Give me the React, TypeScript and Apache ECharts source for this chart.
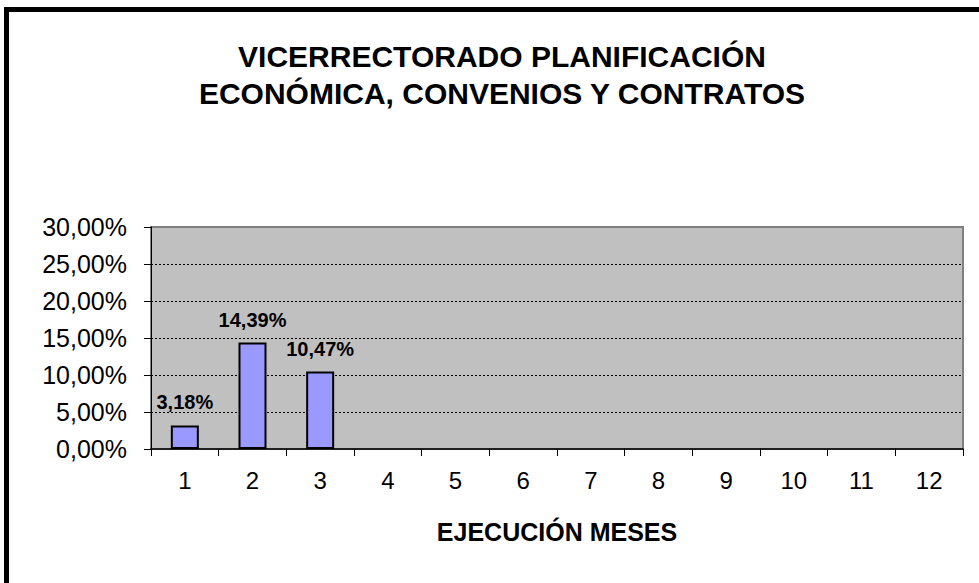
import React, { useEffect, useRef } from "react";
import * as echarts from "echarts";

const titleLines = ["VICERRECTORADO PLANIFICACIÓN", "ECONÓMICA, CONVENIOS Y CONTRATOS"];
const months = ["1", "2", "3", "4", "5", "6", "7", "8", "9", "10", "11", "12"];
const execution: (number | null)[] = [3.18, 14.39, 10.47, null, null, null, null, null, null, null, null, null];
const xAxisName = "EJECUCIÓN MESES";
const yMin = 0;
const yMax = 30;
const yStep = 5;

const fmt = (v: number) => v.toFixed(2).replace(".", ",") + "%";

export default function App() {
  const ref = useRef<HTMLDivElement>(null);
  useEffect(() => {
    if (!ref.current) return;
    const chart = echarts.init(ref.current, undefined, { renderer: "svg" });
    const font = "Arial, 'Liberation Sans', sans-serif";
    chart.setOption({
      animation: false,
      backgroundColor: "#ffffff",
      textStyle: { fontFamily: font },
      title: {
        text: titleLines.join("\n"),
        left: 497,
        top: 33,
        textAlign: "center",
        textStyle: { fontFamily: font, fontSize: 30, fontWeight: "bold", color: "#000", lineHeight: 37 },
      },
      graphic: [
        {
          type: "rect",
          shape: { x: 6.5, y: 9.5, width: 1100, height: 1100 },
          style: { fill: "none", stroke: "#000", lineWidth: 5 },
          silent: true,
        },
      ],
      grid: {
        left: 151,
        top: 227,
        right: 16,
        bottom: 134,
        show: true,
        backgroundColor: "#C0C0C0",
        borderColor: "#808080",
        borderWidth: 2,
        containLabel: false,
      },
      xAxis: {
        type: "category",
        data: months,
        boundaryGap: true,
        name: xAxisName,
        nameLocation: "middle",
        nameGap: 70,
        nameTextStyle: { fontFamily: font, fontSize: 25, fontWeight: "bold", color: "#000" },
        axisLine: { show: true, lineStyle: { color: "#000", width: 1.5 } },
        axisTick: { show: true, length: 7, lineStyle: { color: "#000", width: 1 } },
        axisLabel: { fontFamily: font, fontSize: 24, color: "#000", margin: 19 },
        splitLine: { show: false },
      },
      yAxis: {
        type: "value",
        min: yMin,
        max: yMax,
        interval: yStep,
        axisLine: { show: true, lineStyle: { color: "#000", width: 1 } },
        axisTick: { show: true, length: 7, lineStyle: { color: "#000", width: 1 } },
        axisLabel: { fontFamily: font, fontSize: 25, color: "#000", margin: 24, formatter: (v: number) => fmt(v) },
        splitLine: {
          show: true,
          showMinLine: false,
          showMaxLine: false,
          lineStyle: { color: "#000", width: 1, type: [2, 2] },
        },
      },
      series: [
        {
          type: "bar",
          data: execution,
          barWidth: 28,
          itemStyle: { color: "#9999FF", borderColor: "#000", borderWidth: 2 },
          label: {
            show: true,
            position: "top",
            distance: 13,
            fontFamily: font,
            fontSize: 20,
            fontWeight: "bold",
            color: "#000",
            formatter: (p: any) => (p.value == null ? "" : fmt(p.value)),
          },
        },
      ],
    });
    return () => chart.dispose();
  }, []);
  return (
    <div
      ref={ref}
      style={{ position: "absolute", left: 0, top: 0, width: 979, height: 583, background: "#fff" }}
    />
  );
}
